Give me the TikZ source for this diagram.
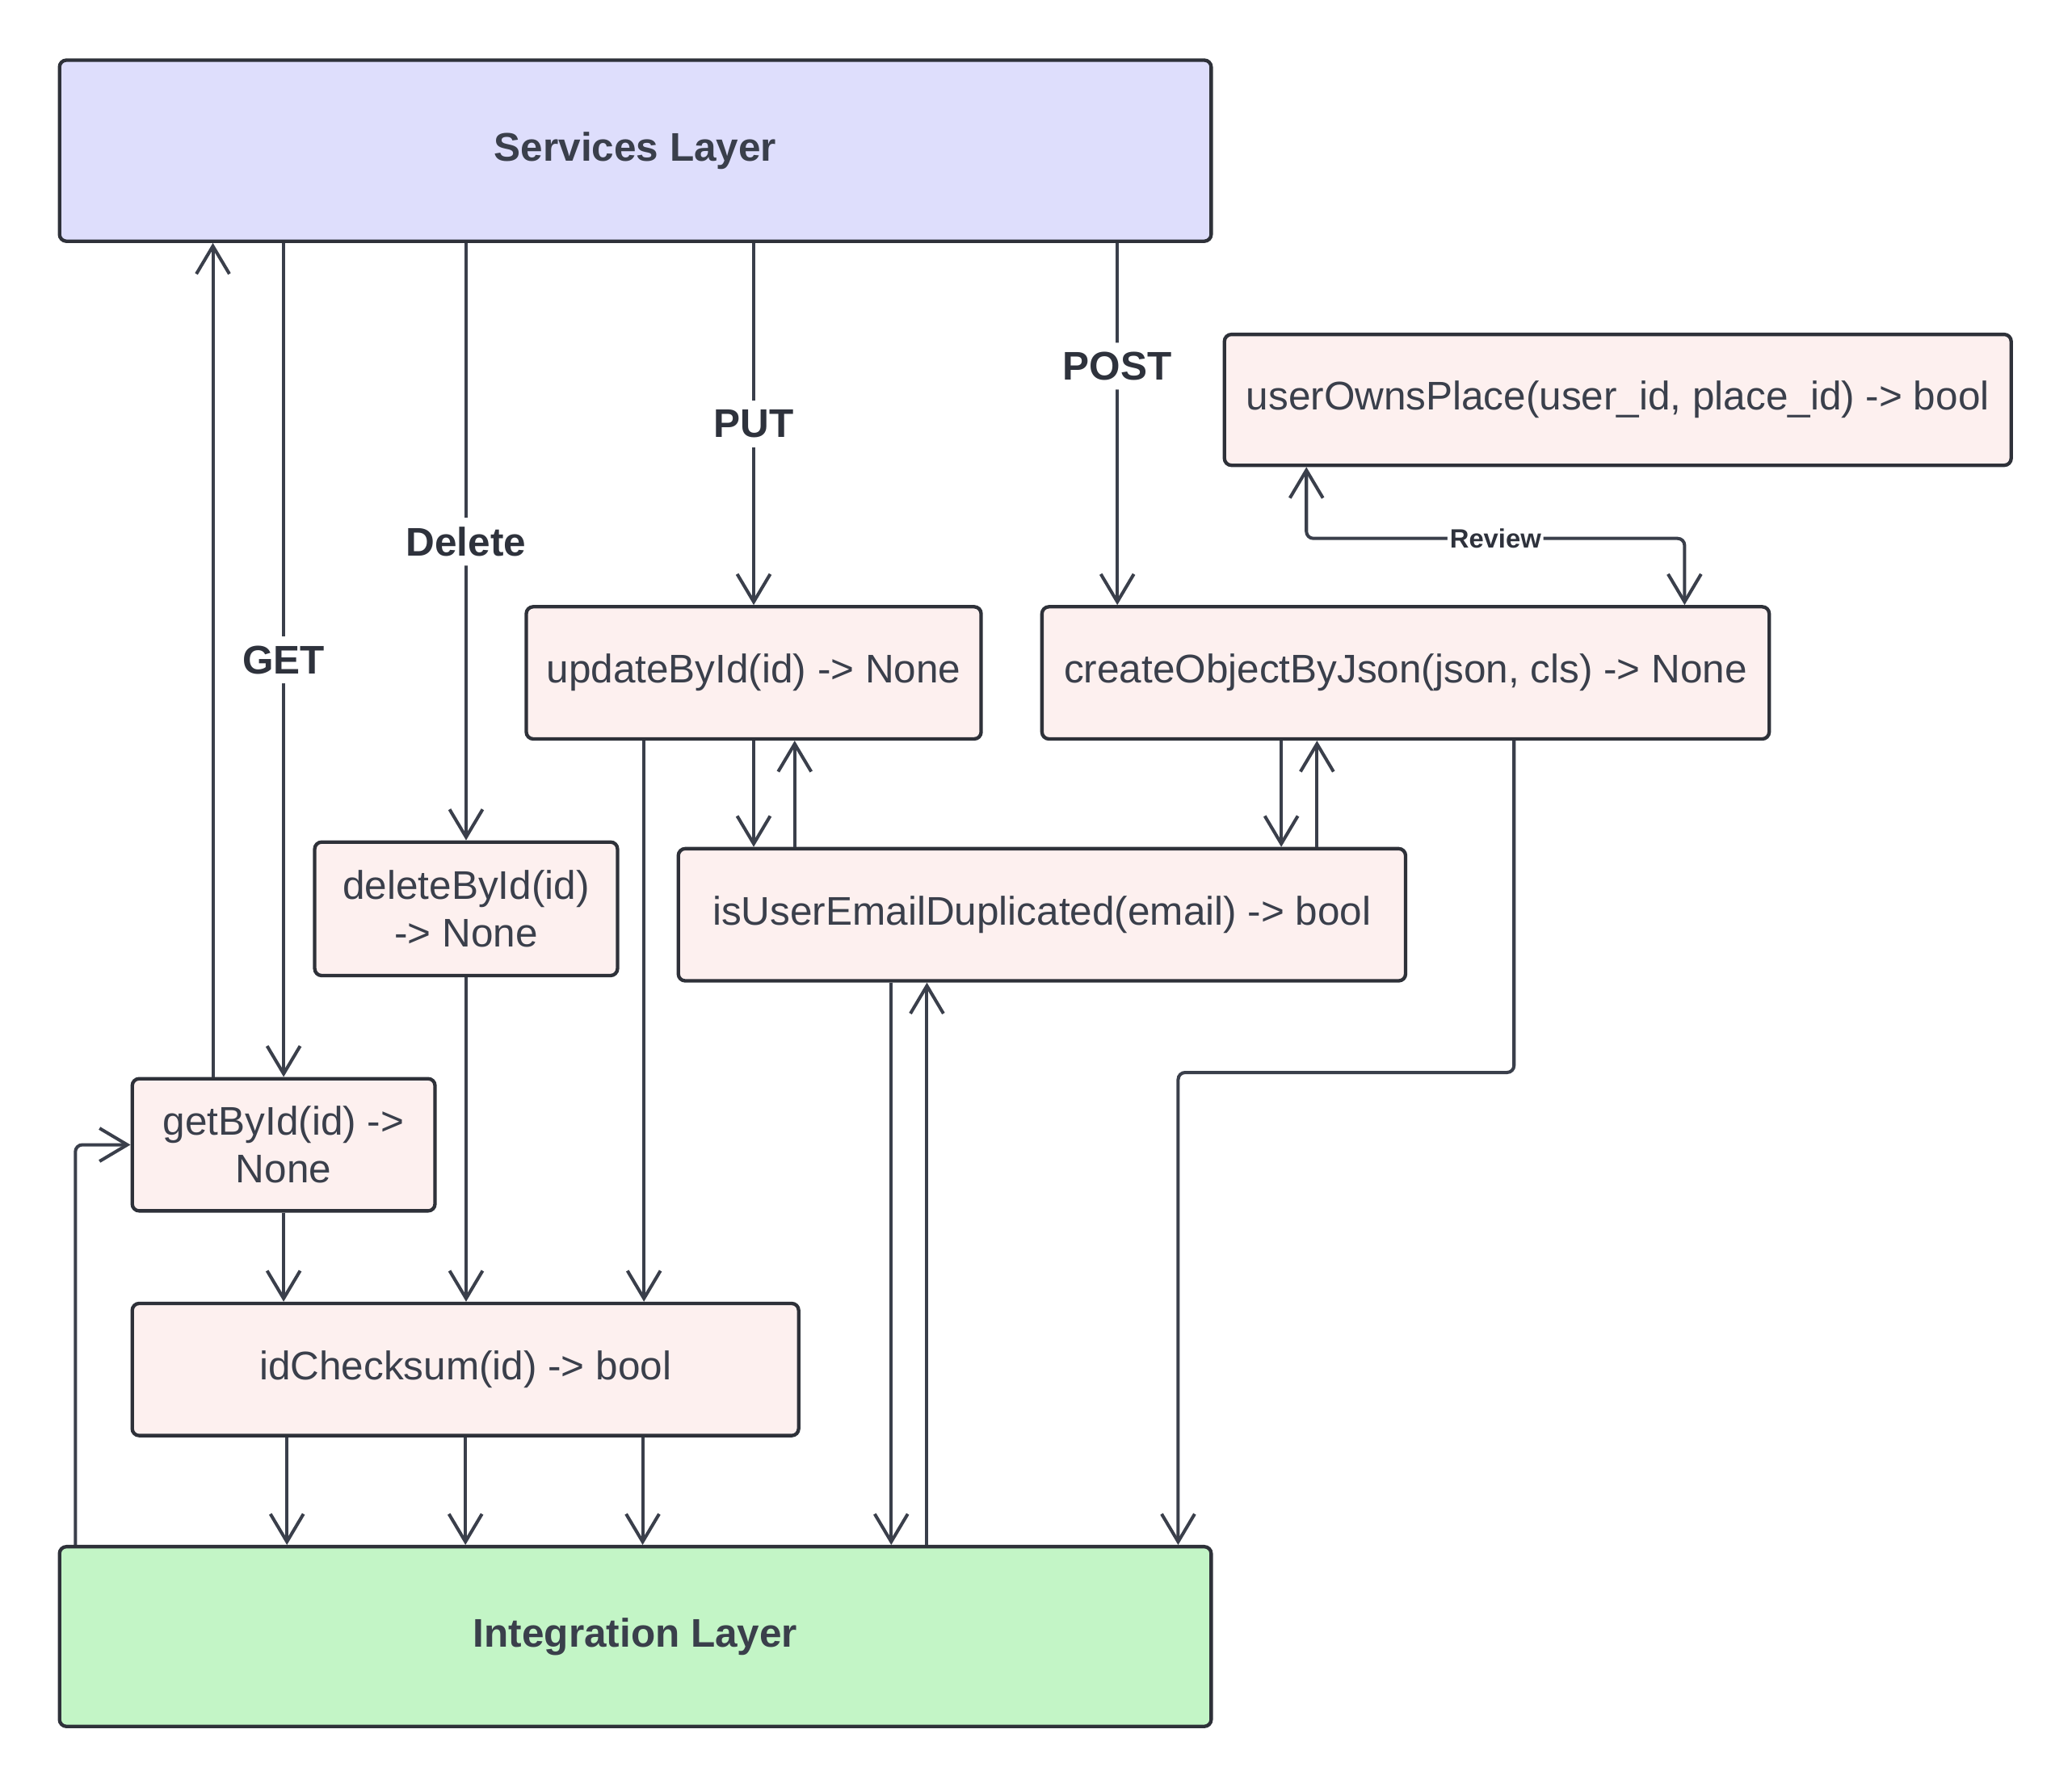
\documentclass[tikz,border=0pt]{standalone}
\usepackage{fontspec}
\setmainfont{Liberation Sans}
\usetikzlibrary{arrows.meta}
\definecolor{ink}{HTML}{3A3F4B}
\definecolor{edge}{HTML}{2E3139}
\definecolor{svcfill}{HTML}{DEDEFC}
\definecolor{intfill}{HTML}{C3F5C6}
\definecolor{fnfill}{HTML}{FDF0EF}

\begin{document}
\begin{tikzpicture}
  \tikzstyle{layer}=[draw=edge, line width=0.75pt, rounded corners=1.5pt, minimum width=8.71cm, minimum height=1.37cm, text=ink, font=\fontsize{8.6}{10.3}\selectfont\bfseries]
  \tikzstyle{fn}=[draw=edge, fill=fnfill, line width=0.75pt, rounded corners=1.5pt, minimum height=1.0cm, inner sep=0pt, align=center, text=ink, font=\fontsize{8.6}{10.3}\selectfont]
  \tikzstyle{link}=[->, >={Straight Barb[length=2.1mm,width=2.5mm]}, draw=ink, line width=0.7pt, rounded corners=1.5pt]
  \tikzstyle{verb}=[fill=white, text=ink!80!black, inner sep=2pt, font=\fontsize{8.6}{10.3}\selectfont\bfseries]

  \useasboundingbox (0,0) rectangle (15.67,-13.52);

  \node[layer, fill=svcfill] (svc) at (4.805,-1.14) {Services Layer}; % Top layer
  \node[layer, fill=intfill, minimum height=1.36cm] (integ) at (4.805,-12.38) {Integration Layer}; % Bottom layer
  \node[fn, minimum width=5.95cm, minimum height=0.99cm] (uop) at (12.235,-3.025) {userOwnsPlace(user\_id, place\_id) -> bool};
  \node[fn, minimum width=3.44cm] (upd) at (5.70,-5.09) {updateById(id) -> None};
  \node[fn, minimum width=5.50cm] (cobj) at (10.63,-5.09) {createObjectByJson(json, cls) -> None};
  \node[fn, minimum width=2.29cm, minimum height=1.01cm] (del) at (3.525,-6.875) {deleteById(id)\\-> None};
  \node[fn, minimum width=5.50cm] (iue) at (7.88,-6.92) {isUserEmailDuplicated(email) -> bool};
  \node[fn, minimum width=2.29cm] (gby) at (2.145,-8.66) {getById(id) ->\\None};
  \node[fn, minimum width=5.04cm] (chk) at (3.52,-10.36) {idChecksum(id) -> bool};

  % Services layer calls
  \draw[link] (gby.north |- svc.south) -- node[verb] {GET} (gby.north);
  \draw[link] ([xshift=-0.535cm]gby.north) -- ([xshift=-0.535cm]gby.north |- svc.south); % back up
  \draw[link] (del.north |- svc.south) -- node[verb] {Delete} (del.north);
  \draw[link] (upd.north |- svc.south) -- node[verb] {PUT} (upd.north);
  \draw[link] ([xshift=-2.18cm]cobj.north |- svc.south) -- node[verb, pos=0.34] {POST} ([xshift=-2.18cm]cobj.north);

  % Review loop
  \draw[link, <->] ([xshift=-2.355cm]uop.south) -- ++(0,-0.54) -| node[pos=0.25, fill=white, text=ink!80!black, inner sep=0.5pt, font=\fontsize{5.7}{6.8}\selectfont\bfseries] {Review} ([xshift=2.11cm]cobj.north);

  % Duplicate e-mail check
  \draw[link] (upd.south) -- (upd.south |- iue.north);
  \draw[link] ([xshift=0.31cm]upd.south |- iue.north) -- ([xshift=0.31cm]upd.south);
  \draw[link] ([xshift=-0.94cm]cobj.south) -- ([xshift=-0.94cm]cobj.south |- iue.north);
  \draw[link] ([xshift=-0.67cm]cobj.south |- iue.north) -- ([xshift=-0.67cm]cobj.south);

  % Checksum
  \draw[link] (gby.south) -- (gby.south |- chk.north);
  \draw[link] (del.south) -- (del.south |- chk.north);
  \draw[link] ([xshift=-0.83cm]upd.south) -- ([xshift=-0.83cm]upd.south |- chk.north);

  % Integration layer
  \draw[link] ([xshift=-1.35cm]chk.south) -- ([xshift=-1.35cm]chk.south |- integ.north);
  \draw[link] (chk.south) -- (chk.south |- integ.north);
  \draw[link] ([xshift=1.34cm]chk.south) -- ([xshift=1.34cm]chk.south |- integ.north);
  \draw[link] ([xshift=-1.14cm]iue.south) -- ([xshift=-1.14cm]iue.south |- integ.north);
  \draw[link] ([xshift=-0.87cm]iue.south |- integ.north) -- ([xshift=-0.87cm]iue.south);
  \draw[link] ([xshift=0.82cm]cobj.south) -- ++(0,-2.51) -| ([xshift=4.105cm]integ.north); % Right detour
  \draw[link] ([xshift=-4.235cm]integ.north) |- (gby.west); % Left return
\end{tikzpicture}
\end{document}
